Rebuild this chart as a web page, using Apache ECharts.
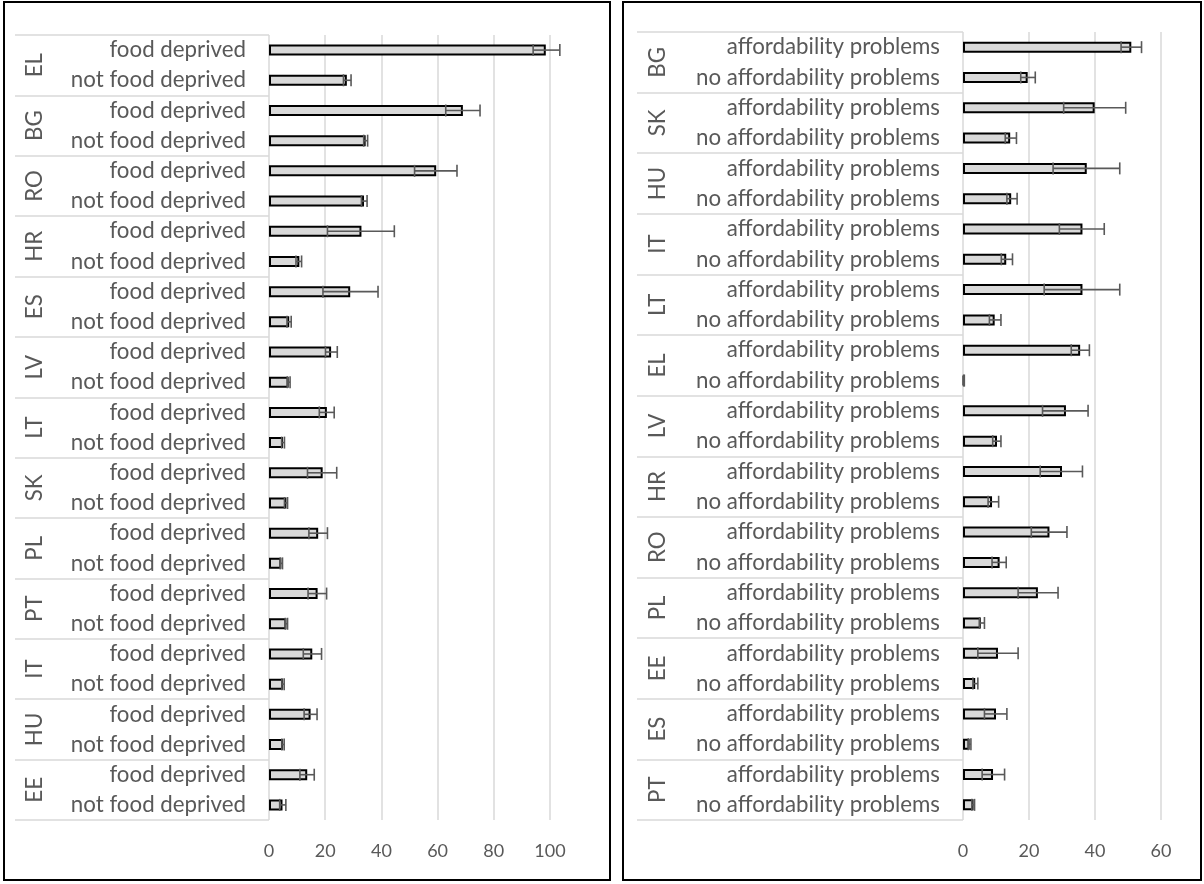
<!DOCTYPE html>
<html>
<head>
<meta charset="utf-8">
<script src="https://cdn.jsdelivr.net/npm/echarts@6/dist/echarts.min.js"></script>
<style>
  html, body { margin: 0; padding: 0; background: #fff; }
  #chart { width: 1204px; height: 884px; }
</style>
</head>
<body>
<div id="chart"></div>
<script>
// Left panel: food deprivation, countries top to bottom
const foodGroups = ['EL', 'BG', 'RO', 'HR', 'ES', 'LV', 'LT', 'SK', 'PL', 'PT', 'IT', 'HU', 'EE'];
const foodItems = ['food deprived', 'not food deprived'];
const foodDeprived      = [98.5, 69.0, 59.5, 32.9, 28.9, 22.1, 20.6, 19.1, 17.5, 17.3, 15.4, 14.8, 13.6];
const foodDeprivedLow   = [94.0, 62.9, 51.8, 20.8, 19.2, 20.1, 17.9, 13.7, 14.2, 13.9, 12.2, 12.5, 11.0];
const foodDeprivedHigh  = [103.5, 75.1, 66.9, 44.6, 38.8, 24.3, 23.2, 24.1, 20.8, 20.5, 18.7, 17.1, 16.1];
const notFoodDeprived     = [27.7, 34.4, 33.8, 10.8, 7.2, 7.0, 5.0, 6.2, 4.4, 6.2, 5.0, 5.0, 4.8];
const notFoodDeprivedLow  = [26.5, 33.7, 32.9, 9.6, 6.4, 6.5, 4.5, 5.5, 4.0, 5.8, 4.6, 4.6, 3.8];
const notFoodDeprivedHigh = [29.2, 35.1, 34.9, 11.6, 7.9, 7.5, 5.5, 6.6, 4.8, 6.6, 5.4, 5.4, 6.0];
const foodTicks = { min: 0, max: 100, interval: 20 };

// Right panel: affordability problems, countries top to bottom
const affGroups = ['BG', 'SK', 'HU', 'IT', 'LT', 'EL', 'LV', 'HR', 'RO', 'PL', 'EE', 'ES', 'PT'];
const affItems = ['affordability problems', 'no affordability problems'];
const affProblems      = [51.0, 39.9, 37.5, 36.2, 36.2, 35.5, 31.2, 30.0, 26.2, 22.7, 10.6, 10.0, 9.1];
const affProblemsLow   = [47.9, 30.5, 27.3, 29.2, 24.6, 32.8, 24.1, 23.4, 20.7, 16.7, 4.5, 6.5, 5.8];
const affProblemsHigh  = [54.1, 49.3, 47.5, 42.8, 47.5, 38.3, 37.9, 36.2, 31.5, 28.8, 16.7, 13.3, 12.6];
const noAffProblems     = [19.6, 14.3, 14.6, 13.1, 9.6, 0.3, 10.3, 8.8, 11.1, 5.4, 3.7, 2.0, 3.2];
const noAffProblemsLow  = [17.5, 12.8, 13.3, 11.6, 8.0, 0.2, 9.0, 7.6, 8.8, 5.0, 3.0, 1.6, 2.7];
const noAffProblemsHigh = [21.9, 16.2, 16.4, 15.0, 11.5, 0.4, 11.5, 10.8, 13.1, 6.5, 4.5, 2.4, 3.5];
const affTicks = { min: 0, max: 60, interval: 20 };

// Interleave the two sub-rows of every country group into one row list
function interleave(a, b) {
  const out = [];
  for (let i = 0; i < a.length; i++) { out.push(a[i], b[i]); }
  return out;
}
function rowLabels(groups, items) {
  const out = [];
  groups.forEach(() => { out.push(items[0], items[1]); });
  return out;
}
function errorRows(low, high) {
  return low.map((l, i) => [l, high[i], i]);
}

const FONT = 'Lato, "Open Sans", sans-serif';
const TEXT = '#595959';
const GRIDLINE = '#d9d9d9';

const panels = [
  {
    grid: { left: 269, top: 35, width: 281, height: 785, outerBoundsMode: 'none' },
    groups: foodGroups,
    rows: rowLabels(foodGroups, foodItems),
    values: interleave(foodDeprived, notFoodDeprived),
    errors: errorRows(interleave(foodDeprivedLow, notFoodDeprivedLow), interleave(foodDeprivedHigh, notFoodDeprivedHigh)),
    ticks: foodTicks,
    groupTick: 254,
    groupMargin: 223
  },
  {
    grid: { left: 963, top: 32, width: 198, height: 788, outerBoundsMode: 'none' },
    groups: affGroups,
    rows: rowLabels(affGroups, affItems),
    values: interleave(affProblems, noAffProblems),
    errors: errorRows(interleave(affProblemsLow, noAffProblemsLow), interleave(affProblemsHigh, noAffProblemsHigh)),
    ticks: affTicks,
    groupTick: 326,
    groupMargin: 294
  }
];

const option = {
  animation: false,
  backgroundColor: '#ffffff',
  textStyle: { fontFamily: FONT },
  grid: [],
  xAxis: [],
  yAxis: [],
  series: [],
  graphic: [
    { type: 'rect', shape: { x: 4, y: 2, width: 606, height: 878 }, style: { fill: 'none', stroke: '#000', lineWidth: 2 }, silent: true },
    { type: 'rect', shape: { x: 623, y: 2, width: 578, height: 878 }, style: { fill: 'none', stroke: '#000', lineWidth: 2 }, silent: true }
  ]
};

panels.forEach((p, k) => {
  option.grid.push(p.grid);
  option.xAxis.push({
    type: 'value', gridIndex: k, position: 'bottom',
    min: p.ticks.min, max: p.ticks.max, interval: p.ticks.interval,
    axisLine: { show: false }, axisTick: { show: false },
    splitLine: { show: true, lineStyle: { color: GRIDLINE, width: 1.5 } },
    axisLabel: { color: TEXT, fontSize: 18, fontFamily: FONT, margin: 22 }
  });
  // row labels (sub-categories)
  option.yAxis.push({
    type: 'category', gridIndex: k, position: 'left', inverse: true, data: p.rows,
    axisLine: { show: false }, axisTick: { show: false }, splitLine: { show: false },
    axisLabel: { color: TEXT, fontSize: 22.3, fontFamily: FONT, margin: 23, interval: 0 }
  });
  // country group labels with separator lines
  option.yAxis.push({
    type: 'category', gridIndex: k, position: 'left', inverse: true, data: p.groups,
    axisLine: { show: false },
    axisTick: { show: true, length: p.groupTick, lineStyle: { color: GRIDLINE, width: 1.5 } },
    splitLine: { show: false },
    axisLabel: { color: TEXT, fontSize: 22.3, fontFamily: FONT, rotate: 90, margin: p.groupMargin, interval: 0 }
  });
  option.series.push({
    type: 'bar', xAxisIndex: k, yAxisIndex: 2 * k,
    data: p.values, barWidth: 11,
    itemStyle: { color: '#d9d9d9', borderColor: '#000000', borderWidth: 2 },
    z: 2
  });
  option.series.push({
    type: 'custom', xAxisIndex: k, yAxisIndex: 2 * k,
    data: p.errors,
    encode: { x: [0, 1], y: 2 },
    z: 3,
    renderItem: function (params, api) {
      const row = api.value(2);
      const a = api.coord([api.value(0), row]);
      const b = api.coord([api.value(1), row]);
      const h = 6;
      const style = { stroke: '#595959', lineWidth: 1.6, fill: 'none' };
      return {
        type: 'group',
        children: [
          { type: 'line', shape: { x1: a[0], y1: a[1], x2: b[0], y2: b[1] }, style: style },
          { type: 'line', shape: { x1: a[0], y1: a[1] - h, x2: a[0], y2: a[1] + h }, style: style },
          { type: 'line', shape: { x1: b[0], y1: b[1] - h, x2: b[0], y2: b[1] + h }, style: style }
        ]
      };
    }
  });
});

const chart = echarts.init(document.getElementById('chart'), null, { renderer: 'canvas' });
chart.setOption(option);
</script>
</body>
</html>
